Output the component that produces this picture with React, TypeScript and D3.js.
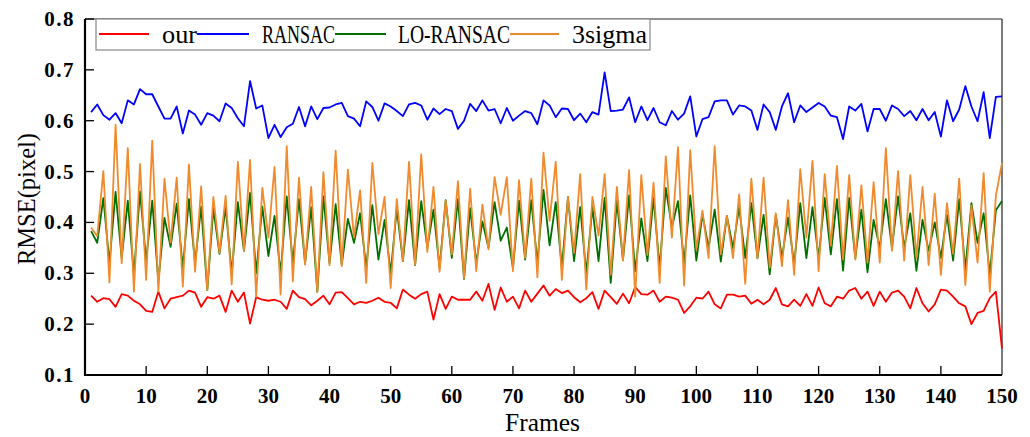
import React, { useEffect } from "react";
import * as d3 from "d3";

const ourValues = [
  0.256, 0.244, 0.251, 0.249, 0.234, 0.259, 0.256, 0.246, 0.239, 0.226,
  0.224, 0.264, 0.231, 0.250, 0.253, 0.256, 0.266, 0.262, 0.234, 0.253,
  0.250, 0.256, 0.224, 0.266, 0.244, 0.262, 0.201, 0.253, 0.248, 0.246,
  0.248, 0.244, 0.230, 0.266, 0.253, 0.249, 0.237, 0.246, 0.256, 0.239,
  0.262, 0.263, 0.251, 0.239, 0.244, 0.242, 0.246, 0.252, 0.244, 0.242,
  0.231, 0.268, 0.258, 0.250, 0.259, 0.264, 0.209, 0.259, 0.230, 0.254,
  0.248, 0.248, 0.248, 0.264, 0.246, 0.279, 0.228, 0.272, 0.244, 0.254,
  0.231, 0.266, 0.244, 0.260, 0.276, 0.256, 0.269, 0.261, 0.266, 0.253,
  0.243, 0.251, 0.263, 0.230, 0.266, 0.253, 0.240, 0.260, 0.241, 0.273,
  0.259, 0.258, 0.266, 0.244, 0.254, 0.252, 0.248, 0.222, 0.235, 0.252,
  0.250, 0.264, 0.239, 0.231, 0.258, 0.258, 0.254, 0.256, 0.240, 0.248,
  0.239, 0.248, 0.271, 0.239, 0.235, 0.248, 0.236, 0.259, 0.236, 0.272,
  0.241, 0.235, 0.254, 0.250, 0.266, 0.271, 0.250, 0.264, 0.236, 0.264,
  0.244, 0.262, 0.266, 0.254, 0.231, 0.271, 0.241, 0.225, 0.239, 0.268,
  0.266, 0.254, 0.241, 0.235, 0.200, 0.222, 0.226, 0.251, 0.264, 0.152,
];

const ransacValues = [
  0.617, 0.632, 0.611, 0.602, 0.615, 0.595, 0.640, 0.632, 0.662, 0.652,
  0.652, 0.628, 0.604, 0.604, 0.628, 0.575, 0.620, 0.612, 0.592, 0.615,
  0.610, 0.599, 0.634, 0.625, 0.605, 0.589, 0.678, 0.624, 0.630, 0.566,
  0.592, 0.568, 0.587, 0.594, 0.627, 0.589, 0.628, 0.603, 0.625, 0.626,
  0.632, 0.635, 0.609, 0.604, 0.589, 0.638, 0.627, 0.600, 0.634, 0.628,
  0.619, 0.609, 0.632, 0.635, 0.630, 0.602, 0.624, 0.613, 0.623, 0.619,
  0.584, 0.600, 0.633, 0.619, 0.640, 0.620, 0.623, 0.595, 0.625, 0.600,
  0.610, 0.619, 0.615, 0.593, 0.640, 0.630, 0.607, 0.624, 0.623, 0.601,
  0.614, 0.597, 0.617, 0.612, 0.695, 0.619, 0.620, 0.622, 0.646, 0.597,
  0.628, 0.601, 0.625, 0.597, 0.591, 0.619, 0.602, 0.614, 0.648, 0.569,
  0.603, 0.607, 0.638, 0.640, 0.640, 0.612, 0.630, 0.628, 0.620, 0.582,
  0.632, 0.617, 0.582, 0.628, 0.654, 0.597, 0.630, 0.617, 0.626, 0.635,
  0.628, 0.610, 0.607, 0.564, 0.628, 0.620, 0.633, 0.579, 0.623, 0.623,
  0.600, 0.630, 0.623, 0.609, 0.619, 0.601, 0.623, 0.601, 0.617, 0.569,
  0.640, 0.599, 0.622, 0.668, 0.628, 0.599, 0.656, 0.566, 0.647, 0.648,
];

const loRansacValues = [
  0.383, 0.360, 0.448, 0.320, 0.460, 0.330, 0.443, 0.297, 0.461, 0.324,
  0.443, 0.284, 0.409, 0.352, 0.437, 0.310, 0.446, 0.320, 0.431, 0.267,
  0.427, 0.338, 0.430, 0.300, 0.440, 0.344, 0.458, 0.300, 0.431, 0.334,
  0.413, 0.300, 0.451, 0.320, 0.446, 0.320, 0.430, 0.264, 0.451, 0.320,
  0.436, 0.317, 0.407, 0.360, 0.418, 0.310, 0.434, 0.327, 0.405, 0.300,
  0.427, 0.324, 0.444, 0.316, 0.442, 0.350, 0.425, 0.310, 0.444, 0.330,
  0.446, 0.289, 0.428, 0.320, 0.402, 0.350, 0.440, 0.364, 0.390, 0.310,
  0.443, 0.327, 0.444, 0.320, 0.464, 0.355, 0.440, 0.310, 0.450, 0.324,
  0.430, 0.300, 0.430, 0.324, 0.448, 0.281, 0.443, 0.326, 0.453, 0.304,
  0.408, 0.324, 0.448, 0.310, 0.468, 0.390, 0.442, 0.320, 0.453, 0.325,
  0.416, 0.350, 0.425, 0.323, 0.413, 0.349, 0.430, 0.330, 0.438, 0.330,
  0.415, 0.298, 0.415, 0.330, 0.410, 0.317, 0.438, 0.330, 0.430, 0.330,
  0.448, 0.337, 0.446, 0.305, 0.448, 0.330, 0.425, 0.302, 0.405, 0.350,
  0.446, 0.350, 0.451, 0.350, 0.418, 0.305, 0.405, 0.344, 0.400, 0.330,
  0.415, 0.325, 0.446, 0.307, 0.438, 0.360, 0.418, 0.297, 0.424, 0.442,
];

const sigmaValues = [
  0.390, 0.373, 0.501, 0.282, 0.592, 0.320, 0.546, 0.264, 0.515, 0.287,
  0.561, 0.264, 0.486, 0.360, 0.488, 0.274, 0.514, 0.303, 0.471, 0.267,
  0.450, 0.340, 0.452, 0.278, 0.519, 0.344, 0.523, 0.254, 0.468, 0.370,
  0.509, 0.258, 0.550, 0.284, 0.488, 0.317, 0.470, 0.263, 0.499, 0.316,
  0.541, 0.314, 0.504, 0.370, 0.463, 0.281, 0.517, 0.377, 0.450, 0.271,
  0.446, 0.324, 0.519, 0.317, 0.534, 0.342, 0.470, 0.303, 0.443, 0.337,
  0.481, 0.291, 0.466, 0.304, 0.435, 0.347, 0.489, 0.415, 0.489, 0.304,
  0.483, 0.330, 0.486, 0.292, 0.537, 0.403, 0.519, 0.287, 0.450, 0.340,
  0.495, 0.268, 0.450, 0.374, 0.495, 0.297, 0.470, 0.325, 0.503, 0.254,
  0.493, 0.336, 0.478, 0.281, 0.530, 0.370, 0.548, 0.276, 0.542, 0.347,
  0.423, 0.330, 0.550, 0.337, 0.413, 0.330, 0.455, 0.279, 0.486, 0.329,
  0.488, 0.311, 0.418, 0.314, 0.444, 0.297, 0.505, 0.370, 0.521, 0.304,
  0.495, 0.354, 0.511, 0.327, 0.493, 0.327, 0.473, 0.321, 0.479, 0.321,
  0.546, 0.344, 0.501, 0.325, 0.493, 0.330, 0.470, 0.316, 0.456, 0.297,
  0.438, 0.338, 0.486, 0.277, 0.433, 0.321, 0.497, 0.264, 0.453, 0.517,
];

const seriesNames = ["our", "RANSAC", "LO-RANSAC", "3sigma"];
const seriesColors = ["#ff0000", "#0000ff", "#007000", "#f08a2c"];
const xTicks = [0, 10, 20, 30, 40, 50, 60, 70, 80, 90, 100, 110, 120, 130, 140, 150];
const yTicks = [0.1, 0.2, 0.3, 0.4, 0.5, 0.6, 0.7, 0.8];

const W = 1030;
const H = 437;
const M = { left: 85, right: 28, top: 19, bottom: 62 };
const FONT = "'Liberation Serif', 'Times New Roman', serif";

export default function App() {
  useEffect(() => {
    document.body.style.margin = "0";
  }, []);

  const x = d3.scaleLinear().domain([0, 150]).range([M.left, W - M.right]);
  const y = d3.scaleLinear().domain([0.1, 0.8]).range([H - M.bottom, M.top]);

  const allSeries = [ourValues, ransacValues, loRansacValues, sigmaValues];
  const line = d3
    .line<number>()
    .x((_, i) => x(i + 1))
    .y((d) => y(d));

  const x0 = M.left;
  const x1 = W - M.right;
  const y0 = H - M.bottom;
  const y1 = M.top;

  const legX = 96;
  const legY = y1;
  const legW = 554;
  const legH = 31;
  const legendItems = [
    { lx: 99, lx2: 149, tx: 162, tw: 35 },
    { lx: 197, lx2: 249, tx: 262, tw: 73 },
    { lx: 335, lx2: 386, tx: 398, tw: 112 },
    { lx: 510, lx2: 559, tx: 572, tw: 75 },
  ];

  return (
    <svg width={W} height={H} style={{ display: "block", background: "#fff" }}>
      <rect x={0} y={0} width={W} height={H} fill="#fff" />
      <line x1={x0} y1={y1} x2={x1} y2={y1} stroke="#222" strokeWidth={1.2} />
      <line x1={x1} y1={y1} x2={x1} y2={y0} stroke="#222" strokeWidth={1.2} />

      {allSeries.map((s, k) => (
        <path
          key={k}
          d={line(s) || ""}
          fill="none"
          stroke={seriesColors[k]}
          strokeWidth={1.8}
          strokeLinejoin="round"
        />
      ))}

      <line x1={x0} y1={y0} x2={x1} y2={y0} stroke="#000" strokeWidth={2.2} />
      <line x1={x0} y1={y0 + 1} x2={x0} y2={y1} stroke="#000" strokeWidth={2.2} />

      {xTicks.map((t) => (
        <g key={"xt" + t}>
          {t > 0 && t < 150 && (
            <line x1={x(t)} y1={y0} x2={x(t)} y2={y0 - 9} stroke="#000" strokeWidth={1.3} />
          )}
          <text
            x={x(t)}
            y={y0 + 28}
            textAnchor="middle"
            fontFamily={FONT}
            fontWeight={700}
            fontSize={21}
            fill="#000"
          >
            {t}
          </text>
        </g>
      ))}
      {yTicks.map((t) => (
        <g key={"yt" + t}>
          {t > 0.15 && (
            <line x1={x0} y1={y(t)} x2={x0 + 9} y2={y(t)} stroke="#000" strokeWidth={1.3} />
          )}
          <text
            x={x0 - 10}
            y={y(t) + 7}
            textAnchor="end"
            fontFamily={FONT}
            fontWeight={700}
            fontSize={21}
            letterSpacing={1.5}
            fill="#000"
          >
            {d3.format(".1f")(t)}
          </text>
        </g>
      ))}

      <text
        x={505}
        y={431}
        textLength={75}
        lengthAdjust="spacingAndGlyphs"
        fontFamily={FONT}
        fontSize={25}
        fill="#000"
      >
        Frames
      </text>
      <text
        transform={`translate(35, 265) rotate(-90)`}
        textLength={132}
        lengthAdjust="spacingAndGlyphs"
        fontFamily={FONT}
        fontSize={25}
        fill="#000"
      >
        RMSE(pixel)
      </text>

      <rect x={legX} y={legY} width={legW} height={legH} fill="#fff" stroke="#888" strokeWidth={1.2} />
      {seriesNames.map((n, k) => (
        <g key={n}>
          <line
            x1={legendItems[k].lx}
            x2={legendItems[k].lx2}
            y1={legY + 15}
            y2={legY + 15}
            stroke={seriesColors[k]}
            strokeWidth={1.8}
          />
          <text
            x={legendItems[k].tx}
            y={legY + 24}
            textLength={legendItems[k].tw}
            lengthAdjust="spacingAndGlyphs"
            fontFamily={FONT}
            fontSize={25}
            fill="#000"
          >
            {n}
          </text>
        </g>
      ))}
    </svg>
  );
}
